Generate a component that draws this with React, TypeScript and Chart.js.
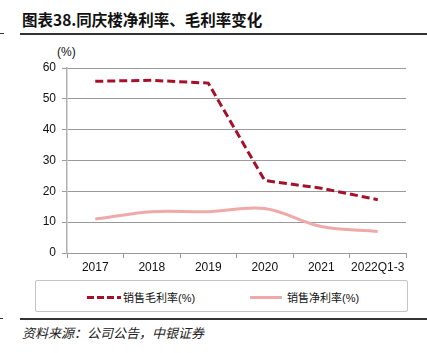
import React, { useEffect, useRef } from "react";
import { Chart, registerables } from "chart.js";

Chart.register(...registerables);

const categories = ["2017", "2018", "2019", "2020", "2021", "2022Q1-3"];
const grossMargin = [55.7, 56.0, 55.1, 23.5, 21.0, 17.3];
const netMargin = [11.0, 13.4, 13.4, 14.4, 8.6, 7.0];
const yTicks = [0, 10, 20, 30, 40, 50, 60];

const GROSS_COLOR = "#A5102B";
const NET_COLOR = "#EFA9A9";
const TICK_FONT = "'Liberation Sans Narrow', 'Liberation Sans', Arial, sans-serif";
const CJK_FONT = "'Noto Sans CJK SC', 'Noto Sans', sans-serif";

export default function App() {
  const canvasRef = useRef<HTMLCanvasElement | null>(null);

  useEffect(() => {
    document.body.style.margin = "0";
    const canvas = canvasRef.current;
    if (!canvas) return;
    const chart = new Chart(canvas, {
      type: "line",
      data: {
        labels: categories,
        datasets: [
          {
            label: "销售毛利率(%)",
            data: grossMargin,
            borderColor: GROSS_COLOR,
            borderWidth: 3,
            borderDash: [8, 4],
            pointRadius: 0,
            tension: 0,
            fill: false,
          },
          {
            label: "销售净利率(%)",
            data: netMargin,
            borderColor: NET_COLOR,
            borderWidth: 3,
            pointRadius: 0,
            tension: 0.35,
            fill: false,
          },
        ],
      },
      options: {
        animation: false,
        responsive: false,
        devicePixelRatio: 1,
        layout: { padding: { left: 0, right: 21, top: 68, bottom: 0 } },
        plugins: {
          legend: { display: false },
          tooltip: { enabled: false },
          title: { display: false },
        },
        scales: {
          x: {
            offset: true,
            grid: {
              offset: true,
              drawOnChartArea: false,
              drawTicks: true,
              tickLength: 5,
              color: "#9a9a9a",
            },
            border: { display: true, color: "#9a9a9a", width: 1 },
            ticks: {
              color: "#111",
              font: { family: TICK_FONT, size: 12 },
              padding: 2,
              maxRotation: 0,
              autoSkip: false,
            },
            afterFit: (scale: any) => {
              scale.height = 27;
            },
          },
          y: {
            min: 0,
            max: 60,
            afterBuildTicks: (scale: any) => {
              scale.ticks = yTicks.map((v) => ({ value: v }));
            },
            grid: {
              color: "#9a9a9a",
              lineWidth: 1,
              drawTicks: true,
              tickLength: 5,
            },
            border: { display: true, color: "#b0b0b0", width: 1.5 },
            ticks: {
              color: "#111",
              font: { family: TICK_FONT, size: 12 },
              padding: 6,
            },
            afterFit: (scale: any) => {
              scale.width = 67;
            },
          },
        },
      },
    });
    return () => chart.destroy();
  }, []);

  return (
    <div
      style={{
        position: "fixed",
        left: 0,
        top: 0,
        width: 427,
        height: 353,
        background: "#fff",
        overflow: "hidden",
      }}
    >
      {/* Title */}
      <div
        style={{
          position: "absolute",
          left: 22,
          top: 9,
          fontFamily: CJK_FONT,
          fontWeight: 700,
          fontSize: 15.5,
          lineHeight: "20px",
          color: "#111",
          whiteSpace: "nowrap",
        }}
      >
        图表38.同庆楼净利率、毛利率变化
      </div>
      <div style={{ position: "absolute", left: 0, top: 33, width: 4, height: 1, background: "#333" }} />
      <div style={{ position: "absolute", left: 20, top: 33, width: 407, height: 1.5, background: "#333" }} />

      {/* unit label */}
      <div
        style={{
          position: "absolute",
          left: 57,
          top: 45,
          fontFamily: TICK_FONT,
          fontSize: 12,
          lineHeight: "14px",
          color: "#111",
        }}
      >
        (%)
      </div>

      <canvas
        ref={canvasRef}
        width={427}
        height={280}
        style={{ position: "absolute", left: 0, top: 0, width: 427, height: 280 }}
      />

      {/* Legend box */}
      <div
        style={{
          position: "absolute",
          left: 35,
          top: 280,
          width: 373,
          height: 32,
          border: "1px solid #c4c4c4",
          borderRadius: 2,
          boxSizing: "border-box",
        }}
      />
      <svg
        style={{ position: "absolute", left: 0, top: 285, width: 427, height: 25 }}
        width={427}
        height={25}
      >
        <line x1={87} y1={12.5} x2={121} y2={12.5} stroke={GROSS_COLOR} strokeWidth={3} strokeDasharray="7 3" />
        <line x1={250} y1={12.5} x2={282} y2={12.5} stroke={NET_COLOR} strokeWidth={3} />
      </svg>
      <div
        style={{
          position: "absolute",
          left: 123,
          top: 289,
          fontFamily: CJK_FONT,
          fontSize: 11,
          lineHeight: "16px",
          color: "#111",
          whiteSpace: "nowrap",
        }}
      >
        销售毛利率<span style={{ fontFamily: TICK_FONT }}>(%)</span>
      </div>
      <div
        style={{
          position: "absolute",
          left: 287,
          top: 289,
          fontFamily: CJK_FONT,
          fontSize: 11,
          lineHeight: "16px",
          color: "#111",
          whiteSpace: "nowrap",
        }}
      >
        销售净利率<span style={{ fontFamily: TICK_FONT }}>(%)</span>
      </div>

      {/* Footer */}
      <div style={{ position: "absolute", left: 0, top: 318, width: 3, height: 1, background: "#333" }} />
      <div style={{ position: "absolute", left: 20, top: 318, width: 407, height: 1.5, background: "#333" }} />
      <div
        style={{
          position: "absolute",
          left: 22,
          top: 324,
          fontFamily: CJK_FONT,
          fontStyle: "italic",
          fontSize: 13,
          lineHeight: "18px",
          color: "#222",
          whiteSpace: "nowrap",
        }}
      >
        资料来源：公司公告，中银证券
      </div>
    </div>
  );
}
